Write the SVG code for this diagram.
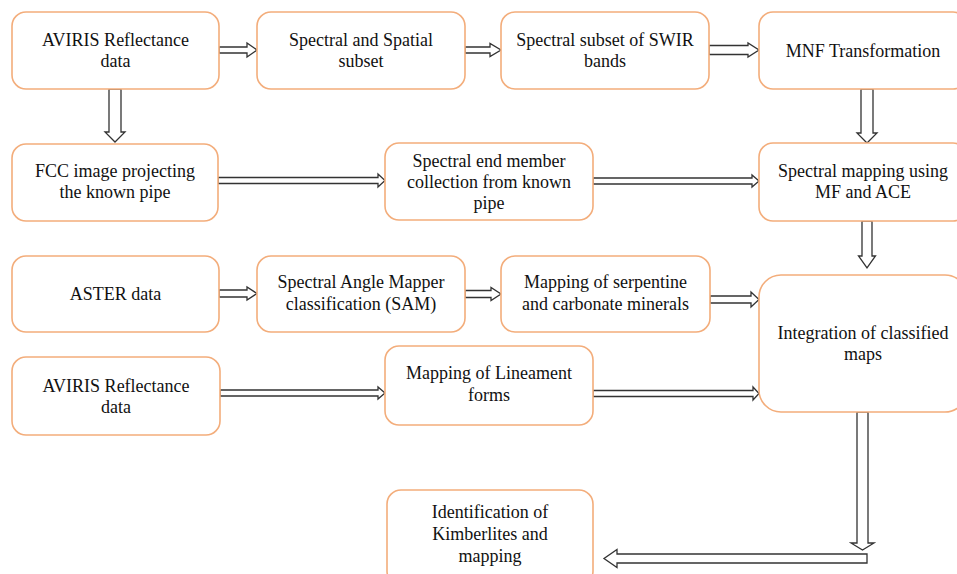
<svg xmlns="http://www.w3.org/2000/svg" width="957" height="574" viewBox="0 0 957 574">
<style>
.box{fill:#fff;stroke:#F3AD7B;stroke-width:1.6}
.t{font-family:"Liberation Serif","Times New Roman",serif;font-size:18px;fill:#111;text-anchor:middle}
.arr{fill:#fff;stroke:#333;stroke-width:1.3;stroke-linejoin:miter}
</style>
<rect width="957" height="574" fill="#fff"/>
<g id="connectors">
<polygon class="arr" points="219,47 247,47 247,43 257,50 247,57 247,53 219,53"/>
<polygon class="arr" points="465,47 490,47 490,43.5 501,50 490,56.5 490,53 465,53"/>
<polygon class="arr" points="709,45.5 748,45.5 748,43 759,50 748,57 748,54.5 709,54.5"/>
<polygon class="arr" points="109,89 109,132 105,132 115,142 125,132 121,132 121,89"/>
<polygon class="arr" points="861,89 861,133 857,133 867,143 877,133 873,133 873,89"/>
<polygon class="arr" points="218,177.5 378,177.5 378,174 385,180.5 378,187 378,183.5 218,183.5"/>
<polygon class="arr" points="593,178 752,178 752,175 759,181 752,187 752,184 593,184"/>
<polygon class="arr" points="862,221 862,256 858.5,256 867,268 875.5,256 872,256 872,221"/>
<polygon class="arr" points="219,290 247,290 247,287 257,293.5 247,300 247,297 219,297"/>
<polygon class="arr" points="465,290.5 491,290.5 491,287.5 501,294 491,300.5 491,297.5 465,297.5"/>
<polygon class="arr" points="710,296 751,296 751,292 759,299.5 751,307 751,303 710,303"/>
<polygon class="arr" points="220,390 378,390 378,387 385,393 378,399 378,396 220,396"/>
<polygon class="arr" points="593,390.5 753,390.5 753,387 759,393.5 753,400 753,396.5 593,396.5"/>
<polygon class="arr" points="857,412 857,543 851,543 862.5,550 874,543 868,543 868,412"/>
<polygon class="arr" points="867,554 617,554 617,549.5 604,558.5 617,567.5 617,563 867,563"/>
</g>
<g id="n1"><rect class="box" x="12" y="12" width="207" height="77" rx="14"/><text class="t" x="115.5" y="46">AVIRIS Reflectance</text><text class="t" x="115.5" y="67">data</text></g>
<g id="n2"><rect class="box" x="257" y="12" width="208" height="77" rx="14"/><text class="t" x="361" y="46">Spectral and Spatial</text><text class="t" x="361" y="67">subset</text></g>
<g id="n3"><rect class="box" x="501" y="12" width="208" height="77" rx="14"/><text class="t" x="605" y="46">Spectral subset of SWIR</text><text class="t" x="605" y="67">bands</text></g>
<g id="n4"><rect class="box" x="759" y="12" width="208" height="77" rx="14"/><text class="t" x="863" y="56.5">MNF Transformation</text></g>
<g id="n5"><rect class="box" x="12" y="144" width="206" height="77" rx="14"/><text class="t" x="115" y="177">FCC image projecting</text><text class="t" x="115" y="198">the known pipe</text></g>
<g id="n6"><rect class="box" x="385" y="143" width="208" height="77" rx="14"/><text class="t" x="489" y="166.5">Spectral end member</text><text class="t" x="489" y="187.5">collection from known</text><text class="t" x="489" y="208.5">pipe</text></g>
<g id="n7"><rect class="box" x="759" y="143" width="208" height="78" rx="14"/><text class="t" x="863" y="177">Spectral mapping using</text><text class="t" x="863" y="198">MF and ACE</text></g>
<g id="n8"><rect class="box" x="12" y="256" width="207" height="76" rx="14"/><text class="t" x="115.5" y="300">ASTER data</text></g>
<g id="n9"><rect class="box" x="257" y="256" width="208" height="76" rx="14"/><text class="t" x="361" y="288">Spectral Angle Mapper</text><text class="t" x="361" y="310">classification (SAM)</text></g>
<g id="n10"><rect class="box" x="501" y="256" width="209" height="76" rx="14"/><text class="t" x="605.5" y="288">Mapping of serpentine</text><text class="t" x="605.5" y="310">and carbonate minerals</text></g>
<g id="n11"><rect class="box" x="759" y="275" width="208" height="137" rx="22"/><text class="t" x="863" y="339">Integration of classified</text><text class="t" x="863" y="360">maps</text></g>
<g id="n12"><rect class="box" x="12" y="357" width="208" height="78" rx="14"/><text class="t" x="116" y="391.5">AVIRIS Reflectance</text><text class="t" x="116" y="412.5">data</text></g>
<g id="n13"><rect class="box" x="385" y="346" width="208" height="79" rx="14"/><text class="t" x="489" y="379">Mapping of Lineament</text><text class="t" x="489" y="401">forms</text></g>
<g id="n14"><rect class="box" x="387" y="490" width="206" height="95" rx="14"/><text class="t" x="490" y="518">Identification of</text><text class="t" x="490" y="540">Kimberlites and</text><text class="t" x="490" y="562">mapping</text></g>
</svg>
